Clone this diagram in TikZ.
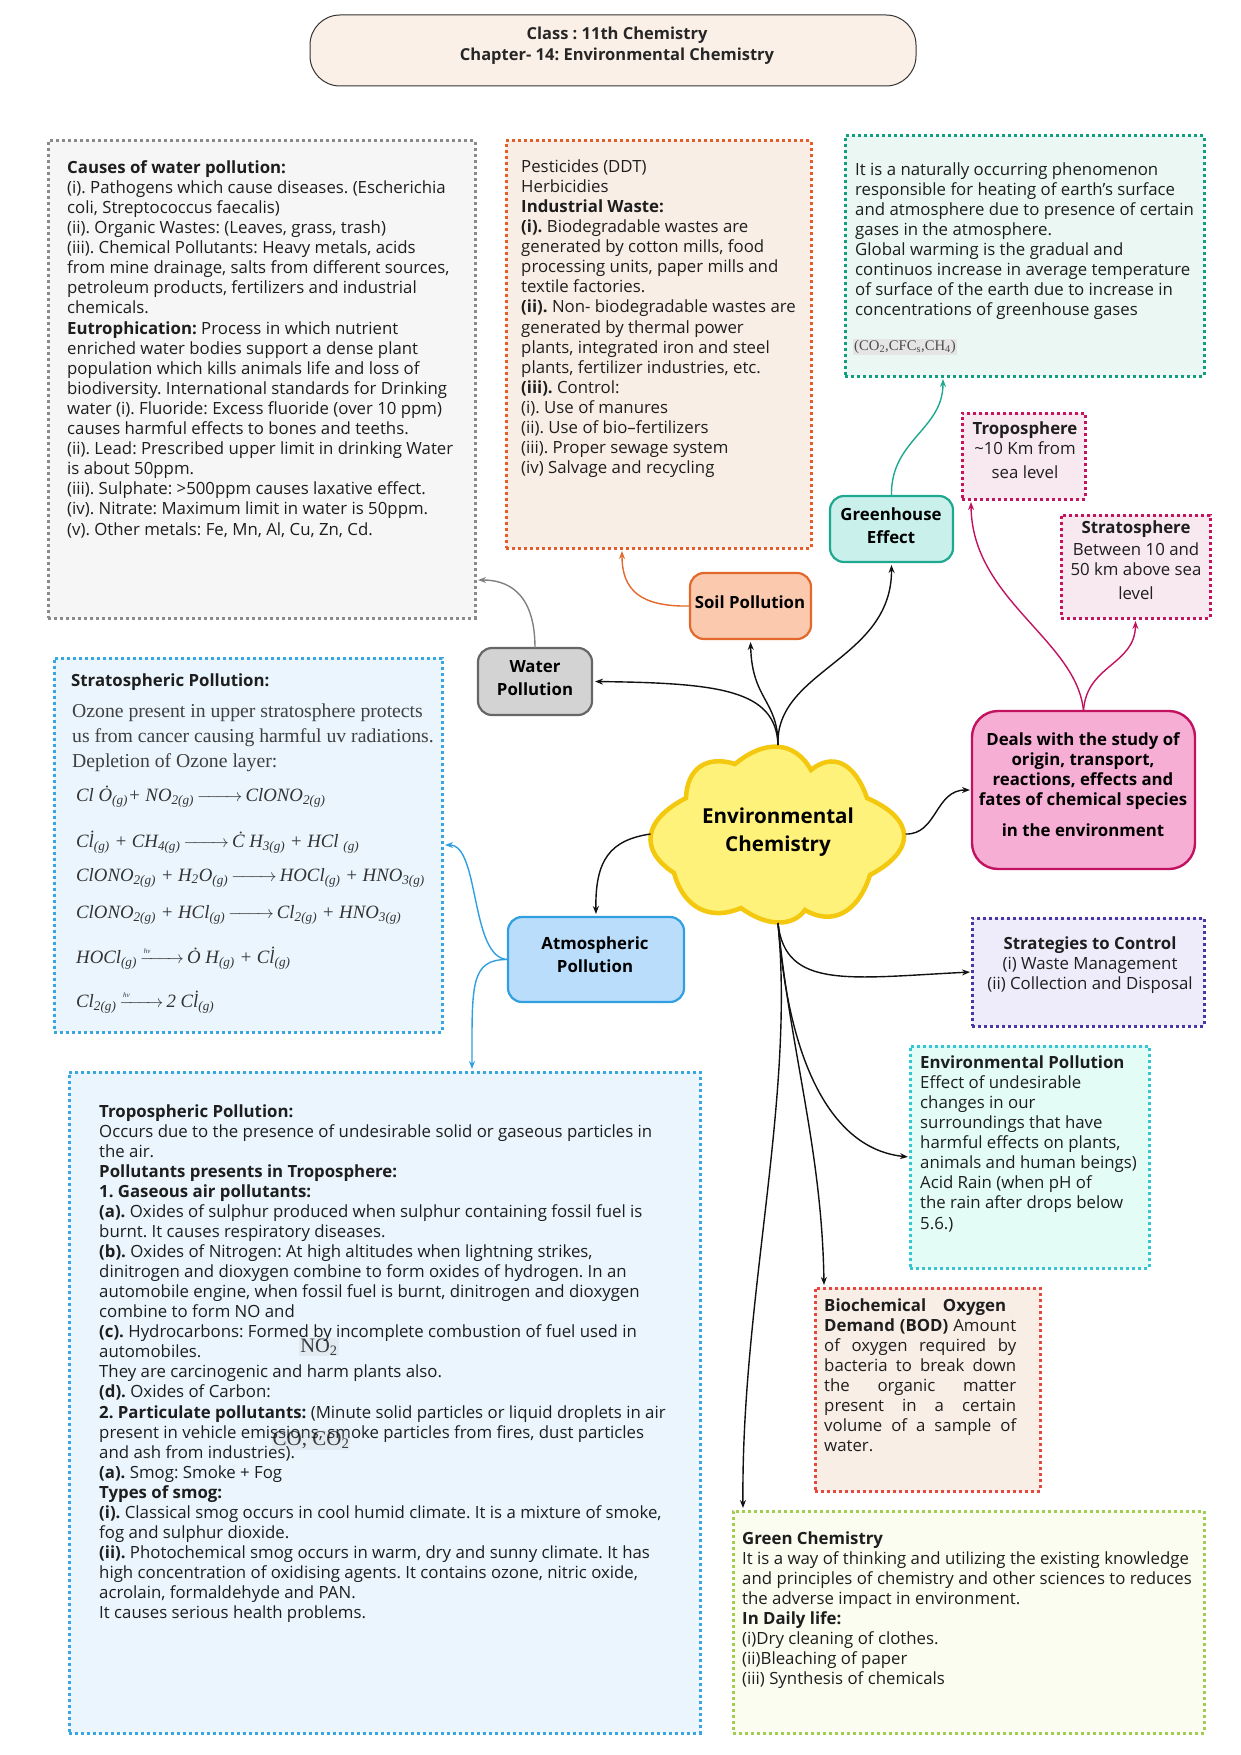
\documentclass[tikz,border=0pt]{standalone}
\usepackage{amsmath}
\usepackage{fontspec}
\setmainfont{Open Sans}
\newfontfamily\chemf{Liberation Serif}
\usetikzlibrary{arrows.meta,fit}
\definecolor{ink}{HTML}{1E1E1E}
\definecolor{linkc}{HTML}{111111}
\definecolor{cWaterB}{HTML}{8A8A8A}\definecolor{cWaterF}{HTML}{F6F6F6}
\definecolor{cSoilB}{HTML}{EA5B2A}\definecolor{cSoilF}{HTML}{F9EEE6}
\definecolor{cGreenB}{HTML}{10A080}\definecolor{cGreenF}{HTML}{EBF7F3}
\definecolor{cPinkB}{HTML}{C4145E}\definecolor{cPinkF}{HTML}{F8E8EF}
\definecolor{cSkyB}{HTML}{3AA6DF}\definecolor{cSkyF}{HTML}{EAF5FD}
\definecolor{cCtrlB}{HTML}{4B35A5}\definecolor{cCtrlF}{HTML}{EEEBFA}
\definecolor{cEnvB}{HTML}{35C6D3}\definecolor{cEnvF}{HTML}{E3FCF6}
\definecolor{cBodB}{HTML}{E5483F}\definecolor{cBodF}{HTML}{F8EEE6}
\definecolor{cChemB}{HTML}{A3CC52}\definecolor{cChemF}{HTML}{FBFDF0}
\definecolor{cGhF}{HTML}{C9F0EB}\definecolor{cGhB}{HTML}{1FA890}
\definecolor{cSpF}{HTML}{FBC9AE}\definecolor{cSpB}{HTML}{E2682C}
\definecolor{cWpF}{HTML}{D3D3D3}\definecolor{cWpB}{HTML}{666666}
\definecolor{cApF}{HTML}{BADDFB}\definecolor{cApB}{HTML}{2F9FE0}
\definecolor{cDeF}{HTML}{F6AED4}\definecolor{cDeB}{HTML}{C2125F}
\definecolor{cTitleF}{HTML}{FBF0E8}
\definecolor{cCloudF}{HTML}{FFF27A}\definecolor{cCloudB}{HTML}{F3C80E}
\newcommand\chs[1]{\textsubscript{#1}}
\newcommand\arr[1]{\,$\xrightarrow{\hspace{#1pt}}$\,}
\newcommand\arrhv[1]{\,$\xrightarrow{\mbox{\scriptsize\itshape hv}\hspace{#1pt}}$\,}
\newcommand\panel[6]{\node[#6, fit={(#2,#3) (#4,#5)}, inner sep=0pt, outer sep=0pt] (#1) {};}
\frenchspacing
\tikzset{
  x=1pt,y=-1pt,
  dotbox/.style 2 args={draw=#1,fill=#2,line width=3pt,dash pattern=on 3pt off 3pt},
  roundbox/.style 2 args={draw=#1,fill=#2,line width=2.2pt,rounded corners=14pt},
  txt/.style={font=\fontsize{16.8}{20.1}\selectfont\frenchspacing,align=left,inner sep=0pt,text=ink,anchor=north west},
  ctxt/.style={font=\fontsize{16.8}{20.1}\selectfont,align=center,inner sep=0pt,text=ink,anchor=north},
  btxt/.style={font=\fontsize{16.8}{23}\selectfont\bfseries,align=center,inner sep=0pt,text=black,anchor=north},
  chemline/.style={font=\fontsize{19.7}{20}\chemf\selectfont,inner sep=0pt,text=black!75,anchor=base west},
  eqline/.style={font=\fontsize{18.8}{20}\chemf\itshape\selectfont,inner sep=0pt,text=black!80,anchor=base west},
  tip/.style={-{Stealth[length=8pt,width=6pt]},shorten >=1pt},
  link/.style={draw=linkc,line width=1.4pt,tip},
  clink/.style={draw=#1,line width=1.4pt,tip},
}
\begin{document}
\begin{tikzpicture}
\useasboundingbox (0,0) rectangle (1241,1755);
% title
\panel{title}{310}{15}{916}{86}{draw=black!80,fill=cTitleF,line width=1pt,rounded corners=30pt}
\node[btxt,font=\fontsize{16.5}{20.5}\selectfont\bfseries,text=black!85] (titleT) at (617,25) {\strut Class : 11th Chemistry\\Chapter- 14: Environmental Chemistry};
% panels
\panel{waterbox}{48}{141}{475}{618}{dotbox={cWaterB}{cWaterF}}
\panel{soilbox}{506}{141}{811}{548}{dotbox={cSoilB}{cSoilF}}
\panel{greenbox}{845}{136}{1204}{376}{dotbox={cGreenB}{cGreenF}}
\panel{tropbox}{962}{413}{1085}{499}{dotbox={cPinkB}{cPinkF}}
\panel{stratbox}{1061}{515}{1210}{618}{dotbox={cPinkB}{cPinkF}}
\panel{ozonebox}{54}{658}{442}{1032}{dotbox={cSkyB}{cSkyF}}
\panel{tropobox}{69}{1072}{700}{1733}{dotbox={cSkyB}{cSkyF}}
\panel{ctrlbox}{972}{918}{1204}{1026}{dotbox={cCtrlB}{cCtrlF}}
\panel{envbox}{910}{1046}{1149}{1268}{dotbox={cEnvB}{cEnvF}}
\panel{bodbox}{815}{1288}{1040}{1491}{dotbox={cBodB}{cBodF}}
\panel{chembox}{733}{1511}{1204}{1733}{dotbox={cChemB}{cChemF}}
% round nodes
\panel{greenhouse}{830}{496}{953}{562}{roundbox={cGhB}{cGhF}}
\panel{soil}{690}{573}{811}{639}{roundbox={cSpB}{cSpF}}
\panel{water}{478}{648}{592}{715}{roundbox={cWpB}{cWpF}}
\panel{atmos}{508}{917}{684}{1002}{roundbox={cApB}{cApF}}
\panel{deals}{972}{711}{1195}{869}{draw=cDeB,fill=cDeF,line width=2.4pt,rounded corners=26pt}
% cloud
\filldraw[draw=cCloudB,fill=cCloudF,line width=4.5pt]
 (735,764) .. controls (765,739) and (795,741) .. (811,770)
 .. controls (833,752) and (855,763) .. (867,798)
 .. controls (915,819) and (917,850) .. (870,875)
 .. controls (858,913) and (832,926) .. (805,910)
 .. controls (793,927) and (767,927) .. (741,908)
 .. controls (711,921) and (684,909) .. (674,873)
 .. controls (639,850) and (643,820) .. (686,798)
 .. controls (687,768) and (707,755) .. (735,764) -- cycle;
\node[minimum width=255pt,minimum height=178pt,inner sep=0pt,outer sep=0pt] (cloud) at (778,834) {};
\node[btxt,font=\fontsize{20.6}{28}\selectfont\bfseries,anchor=center] (cloudT) at (778,832) {Environmental\\Chemistry};
% texts
\node[txt] (waterT) at (67,159) {\strut\textbf{Causes of water pollution:}\\
(i). Pathogens which cause diseases. (Escherichia\\
coli, Streptococcus faecalis)\\
(ii). Organic Wastes: (Leaves, grass, trash)\\
(iii). Chemical Pollutants: Heavy metals, acids\\
from mine drainage, salts from different sources,\\
petroleum products, fertilizers and industrial\\
chemicals.\\
\textbf{Eutrophication:} Process in which nutrient\\
enriched water bodies support a dense plant\\
population which kills animals life and loss of\\
biodiversity. International standards for Drinking\\
water (i). Fluoride: Excess fluoride (over 10 ppm)\\
causes harmful effects to bones and teeths.\\
(ii). Lead: Prescribed upper limit in drinking Water\\
is about 50ppm.\\
(iii). Sulphate: >500ppm causes laxative effect.\\
(iv). Nitrate: Maximum limit in water is 50ppm.\\
(v). Other metals: Fe, Mn, Al, Cu, Zn, Cd.};
\node[txt] (soilT) at (521,158) {\strut Pesticides (DDT)\\
Herbicidies\\
\textbf{Industrial Waste:}\\
\textbf{(i).} Biodegradable wastes are\\
generated by cotton mills, food\\
processing units, paper mills and\\
textile factories.\\
\textbf{(ii).} Non- biodegradable wastes are\\
generated by thermal power\\
plants, integrated iron and steel\\
plants, fertilizer industries, etc.\\
\textbf{(iii).} Control:\\
(i). Use of manures\\
(ii). Use of bio–fertilizers\\
(iii). Proper sewage system\\
(iv) Salvage and recycling};
\node[txt] (greenT) at (855,161) {\strut It is a naturally occurring phenomenon\\
responsible for heating of earth's surface\\
and atmosphere due to presence of certain\\
gases in the atmosphere.\\
Global warming is the gradual and\\
continuos increase in average temperature\\
of surface of the earth due to increase in\\
concentrations of greenhouse gases};
\node[anchor=west,inner sep=1pt,fill=black!10,font=\fontsize{14.7}{16}\chemf\selectfont,text=black!70] (ghg) at (853,347) {(CO\chs{2},CFC\chs{s},CH\chs{4})};
\node[ctxt] (tropT) at (1025,420) {\strut\textbf{Troposphere}\\[0pt]\textasciitilde10 Km from\\[4pt]sea level};
\node[ctxt] (stratT) at (1136,519) {\strut\textbf{Stratosphere}\\[2pt]Between 10 and\\50 km above sea\\[4pt]level};
\node[btxt] (greenhouseT) at (891,504) {\strut Greenhouse\\Effect};
\node[btxt] (soilN) at (750,592) {\strut Soil Pollution};
\node[btxt] (waterN) at (535,656) {\strut Water\\Pollution};
\node[btxt] (atmosN) at (595,933) {\strut Atmospheric\\Pollution};
\node[btxt,font=\fontsize{16.8}{20.1}\selectfont\bfseries] (dealsT) at (1083,731) {\strut Deals with the study of\\origin, transport,\\reactions, effects and\\fates of chemical species\\[11pt]in the environment};
\node[ctxt] (ctrlT) at (1090,935) {\strut\textbf{Strategies to Control}\\(i) Waste Management\\(ii) Collection and Disposal};
\node[txt] (envT) at (920,1054) {\strut\textbf{Environmental Pollution}\\
Effect of undesirable\\
changes in our\\
surroundings that have\\
harmful effects on plants,\\
animals and human beings)\\
Acid Rain (when pH of\\
the rain after drops below\\
5.6.)};
\node[txt] (bodT) at (824,1297) {\strut\makebox[192pt][s]{\textbf{Biochemical\quad Oxygen}}\\
\makebox[192pt][s]{\textbf{Demand (BOD)} Amount}\\
\makebox[192pt][s]{of oxygen required by}\\
\makebox[192pt][s]{bacteria to break down}\\
\makebox[192pt][s]{the organic matter}\\
\makebox[192pt][s]{present in a certain}\\
\makebox[192pt][s]{volume of a sample of}\\
water.};
\node[txt] (chemT) at (742,1530) {\strut\textbf{Green Chemistry}\\
It is a way of thinking and utilizing the existing knowledge\\
and principles of chemistry and other sciences to reduces\\
the adverse impact in environment.\\
\textbf{In Daily life:}\\
(i)Dry cleaning of clothes.\\
(ii)Bleaching of paper\\
(iii) Synthesis of chemicals};
\node[txt,font=\fontsize{16.8}{20.05}\selectfont] (tropoT) at (99,1103) {\strut\textbf{Tropospheric Pollution:}\\
Occurs due to the presence of undesirable solid or gaseous particles in\\
the air.\\
\textbf{Pollutants presents in Troposphere:}\\
\textbf{1. Gaseous air pollutants:}\\
\textbf{(a).} Oxides of sulphur produced when sulphur containing fossil fuel is\\
burnt. It causes respiratory diseases.\\
\textbf{(b).} Oxides of Nitrogen: At high altitudes when lightning strikes,\\
dinitrogen and dioxygen combine to form oxides of hydrogen. In an\\
automobile engine, when fossil fuel is burnt, dinitrogen and dioxygen\\
combine to form NO and\\
\textbf{(c).} Hydrocarbons: Formed by incomplete combustion of fuel used in\\
automobiles.\\
They are carcinogenic and harm plants also.\\
\textbf{(d).} Oxides of Carbon:\\
\textbf{2. Particulate pollutants:} (Minute solid particles or liquid droplets in air\\
present in vehicle emissions, smoke particles from fires, dust particles\\
and ash from industries).\\
\textbf{(a).} Smog: Smoke + Fog\\
\textbf{Types of smog:}\\
\textbf{(i).} Classical smog occurs in cool humid climate. It is a mixture of smoke,\\
fog and sulphur dioxide.\\
\textbf{(ii).} Photochemical smog occurs in warm, dry and sunny climate. It has\\
high concentration of oxidising agents. It contains ozone, nitric oxide,\\
acrolain, formaldehyde and PAN.\\
It causes serious health problems.};
\node[inner sep=1pt,fill=black!30,fill opacity=0.15,text opacity=0.75,font=\fontsize{20.5}{20}\chemf\selectfont] (no2) at (319,1347) {NO\chs{2}};
\node[inner sep=1pt,fill=black!30,fill opacity=0.15,text opacity=0.75,font=\fontsize{21}{20}\chemf\selectfont] (coco) at (311,1440) {CO, CO\chs{2}};
% stratospheric panel
\node[txt,anchor=base west,font=\fontsize{16.8}{20}\selectfont\bfseries] (ozT) at (71,686) {Stratospheric Pollution:};
\node[chemline] (oz1) at (72,717) {Ozone present in upper stratosphere protects};
\node[chemline] (oz2) at (72,742) {us from cancer causing harmful uv radiations.};
\node[chemline] (oz3) at (72,767) {Depletion of Ozone layer:};
\node[eqline] (eq1) at (76,801) {Cl \.O\chs{(g)}+ NO\chs{2(g)}\arr{36}ClONO\chs{2(g)}};
\node[eqline] (eq2) at (76,847) {C\.l\chs{(g)} + CH\chs{4(g)}\arr{36}\.C H\chs{3(g)} + HCl \chs{(g)}};
\node[eqline] (eq3) at (76,881) {ClONO\chs{2(g)} + H\chs{2}O\chs{(g)}\arr{36}HOCl\chs{(g)} + HNO\chs{3(g)}};
\node[eqline] (eq4) at (76,918) {ClONO\chs{2(g)} + HCl\chs{(g)}\arr{36}Cl\chs{2(g)} + HNO\chs{3(g)}};
\node[eqline] (eq5) at (76,963) {HOCl\chs{(g)}\arrhv{28}\.O H\chs{(g)} + C\.l\chs{(g)}};
\node[eqline] (eq6) at (76,1007) {Cl\chs{2(g)}\arrhv{28}2 C\.l\chs{(g)}};
% connectors
\draw[link] (cloud.north) .. controls (776,690) and (720,683) .. ([xshift=2pt]water.east);
\draw[link] (cloud.north) .. controls (778,700) and (752,700) .. ([yshift=-2pt]soil.south);
\draw[link] (cloud.north) .. controls (775,670) and (892,660) .. ([yshift=-2pt]greenhouse.south);
\draw[link] (cloud.east) .. controls (937,835) and (935,790) .. ([xshift=-1pt]deals.west);
\draw[link] (cloud.west) .. controls (610,840) and (595,860) .. ([yshift=2pt]atmos.north);
\draw[link] (cloud.south) .. controls (785,990) and (850,978) .. ([xshift=-1pt]ctrlbox.west);
\draw[link] (cloud.south) .. controls (790,1080) and (840,1150) .. ([xshift=-1pt]envbox.west);
\draw[link] (cloud.south) .. controls (790,1050) and (822,1150) .. ([xshift=9pt,yshift=2pt]bodbox.north west);
\draw[link] (cloud.south) .. controls (795,1100) and (741,1300) .. ([xshift=10pt,yshift=2pt]chembox.north west);
\draw[clink=cGhB] (greenhouse.north) .. controls (890,440) and (943,430) .. ([xshift=98pt,yshift=-2pt]greenbox.south west);
\draw[clink=cSpB] (soil.west) .. controls (640,607) and (622,590) .. ([xshift=116pt,yshift=-2pt]soilbox.south west);
\draw[clink={black!50}] (water.north) .. controls (535,590) and (505,580) .. ([xshift=2pt,yshift=38pt]waterbox.south east);
\draw[clink=cDeB] (deals.north) .. controls (1077,640) and (972,600) .. ([xshift=9pt,yshift=-2pt]tropbox.south west);
\draw[clink=cDeB] (deals.north) .. controls (1086,665) and (1135,665) .. ([yshift=-2pt]stratbox.south);
\draw[clink=cApB] (atmos.west) .. controls (470,959) and (480,845) .. ([xshift=2pt]ozonebox.east);
\draw[clink=cApB] (atmos.west) .. controls (470,959) and (472,985) .. ([xshift=403pt,yshift=2pt]tropobox.north west);
\end{tikzpicture}
\end{document}
